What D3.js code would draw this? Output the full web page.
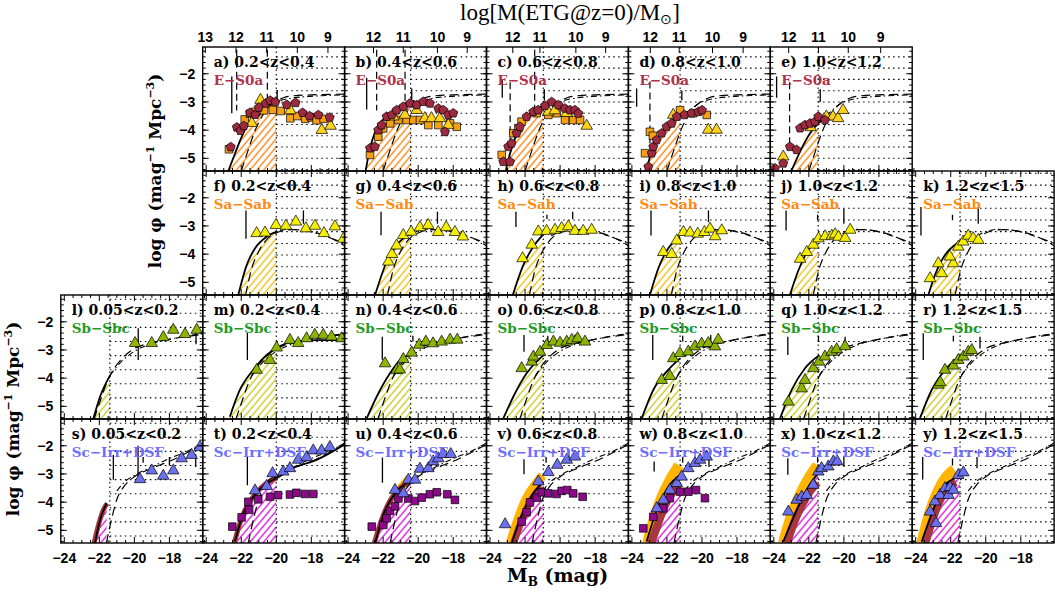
<!DOCTYPE html>
<html>
<head>
<meta charset="utf-8">
<script src="https://cdn.jsdelivr.net/npm/d3@7"></script>
<style>
body { margin: 0; background: #fff; }
svg { display: block; }
</style>
</head>
<body>
<svg id="chart" width="1055" height="592"></svg>
<script>
// values: [M_B (mag), log phi]
var zBins = ["0.05<z<0.2", "0.2<z<0.4", "0.4<z<0.6", "0.6<z<0.8", "0.8<z<1.0", "1.0<z<1.2", "1.2<z<1.5"];
var mLim = [-21.4, -20.0, -20.43, -20.96, -21.25, -21.47, -21.47];
var typeNames = ["E\u2212S0a", "Sa\u2212Sab", "Sb\u2212Sbc", "Sc\u2212Irr+DSF"];
var xTickLabels = [-24, -22, -20, -18];
var yTickLabels = [-2, -3, -4, -5];

// dotted levels right of the completeness limit, per row
var gridRow0 = [-1.4, -1.8, -2.2, -2.6, -3.0, -3.4, -3.8, -4.2, -4.6, -5.0, -5.4];
var gridRow1 = [-1.13, -1.55, -1.96, -2.37, -2.79, -3.2, -3.62, -4.03, -4.45, -4.86, -5.27];
var gridRow2 = [-1.2, -1.7, -2.2, -2.7, -3.2, -3.7, -4.2, -4.7, -5.2];
var gridRow3 = [-1.2, -1.7, -2.2, -2.7, -3.2, -3.7, -4.2, -4.7, -5.2];

// local reference LFs, per row (long dash and dash-dot)
var refDash0 = [[-22.0,-5.45],[-21.6,-4.7],[-21.2,-4.0],[-20.7,-3.4],[-20.2,-3.05],[-19.6,-2.85],[-19.0,-2.78],[-18.0,-2.75],[-16.1,-2.72]];
var refDot0 = [[-21.0,-3.5],[-20.5,-3.2],[-20.0,-3.0],[-19.3,-2.88],[-18.5,-2.82],[-17.5,-2.78],[-16.1,-2.75]];
var refDash1 = [[-21.75,-5.45],[-21.4,-4.5],[-21.0,-3.9],[-20.5,-3.45],[-20.0,-3.25],[-19.5,-3.15],[-19.0,-3.13],[-18.0,-3.2],[-17.0,-3.4],[-16.1,-3.7]];
var refDot1 = [[-20.5,-3.35],[-20.0,-3.2],[-19.3,-3.12],[-18.5,-3.15],[-17.5,-3.3],[-16.8,-3.45],[-16.1,-3.6]];
var refDash2 = [[-22.3,-5.45],[-22.0,-4.9],[-21.6,-4.2],[-21.2,-3.7],[-20.7,-3.3],[-20.0,-2.95],[-19.0,-2.75],[-18.0,-2.62],[-17.0,-2.52],[-16.1,-2.45]];
var refDot2 = [[-21.4,-3.9],[-20.8,-3.45],[-20.0,-3.05],[-19.0,-2.77],[-18.0,-2.62],[-17.0,-2.5],[-16.1,-2.42]];
var refDash3 = [[-21.6,-5.45],[-21.3,-4.6],[-21.0,-3.9],[-20.6,-3.45],[-20.0,-3.1],[-19.0,-2.8],[-18.0,-2.55],[-17.0,-2.25],[-16.1,-1.95]];
var refDot3 = [[-21.0,-3.6],[-20.5,-3.25],[-20.0,-3.05],[-19.0,-2.75],[-18.0,-2.45],[-17.0,-2.2],[-16.1,-1.9]];

// ---- row 1: E-S0a ----
var massA = [[13,-24.05],[12,-22.3],[11,-20.55],[10,-18.8],[9,-17.05]];
var massB = [[12,-22.55],[11,-20.85],[10,-18.9],[9,-17.2]];
var massC = [[12,-22.7],[11,-21.15],[10,-19.1],[9,-17.4]];
var massD = [[12,-22.95],[11,-21.3],[10,-19.4],[9,-17.65]];
var massE = [[12,-23.15],[11,-21.45],[10,-19.75],[9,-17.9]];

var solidA = [[-22.75,-5.47],[-22.35,-4.82],[-21.97,-4.23],[-21.59,-3.76],[-21.02,-3.34],[-20.55,-3.11],[-20.0,-2.99],[-19.8,-2.97]];
var pentA = [[-22.6,-4.6],[-22.25,-3.9],[-22.05,-4.02],[-21.85,-3.85],[-21.5,-3.38],[-21.2,-3.45],[-21.0,-3.2],[-20.6,-3.05],[-20.35,-2.95],[-20.05,-3.0],[-19.4,-3.1],[-18.9,-3.03],[-18.5,-3.38],[-18.1,-3.5],[-17.6,-3.46],[-16.95,-3.55]];
var sqA = [[-22.7,-4.68],[-21.8,-3.62],[-21.5,-3.42],[-21.2,-3.35],[-20.7,-3.3],[-20.2,-3.28],[-19.75,-3.32],[-19.2,-3.58],[-18.8,-3.5],[-18.35,-3.6],[-18.0,-3.55],[-17.7,-3.65],[-17.3,-3.6]];
var triA = [[-21.4,-3.75],[-20.9,-2.93],[-19.2,-3.3],[-17.4,-4.0],[-16.9,-3.85]];
var markA = [[-22.54,-2.1,-3.4],[-19.95,-2.58,-2.93]];
var vdashA = [[-22.26,-1.15,-3.3],[-20.51,-1.15,-3.3]];

var solidB = [[-23.0,-5.45],[-22.85,-4.94],[-22.37,-3.93],[-21.8,-3.52],[-21.23,-3.23],[-20.45,-2.99],[-20.2,-2.96]];
var pentB = [[-22.75,-4.64],[-22.47,-4.59],[-22.28,-4.0],[-22.09,-3.82],[-21.8,-3.52],[-21.51,-3.46],[-21.23,-3.29],[-20.85,-3.17],[-20.47,-3.05],[-20.08,-3.11],[-19.71,-2.99],[-19.33,-3.05],[-18.85,-3.23],[-18.57,-3.29],[-18.28,-3.46],[-18.0,-3.4],[-18.47,-4.06]];
var sqB = [[-22.75,-4.88],[-22.28,-4.23],[-22.0,-3.94],[-21.6,-3.76],[-21.13,-3.64],[-20.66,-3.64],[-20.28,-3.64],[-19.9,-3.64],[-19.42,-3.82],[-18.85,-3.82],[-18.18,-3.76],[-17.8,-3.88]];
var triB = [[-21.42,-3.52],[-20.76,-3.46],[-20.09,-3.29],[-19.62,-3.58],[-19.24,-3.58],[-18.76,-3.58],[-18.28,-3.82]];
var markB = [[-22.94,-2.14,-3.27],[-20.37,-2.52,-2.93]];
var vdashB = [[-22.37,-1.15,-3.3],[-20.75,-1.15,-3.3]];

var solidC = [[-23.1,-5.45],[-22.96,-5.06],[-22.67,-4.47],[-22.29,-3.88],[-21.72,-3.42],[-20.96,-3.13],[-20.6,-3.05]];
var pentC = [[-23.24,-5.12],[-22.86,-5.12],[-22.96,-4.59],[-22.77,-4.47],[-22.48,-4.11],[-22.29,-3.88],[-21.91,-3.52],[-21.53,-3.35],[-21.25,-3.29],[-20.86,-3.13],[-20.48,-3.0],[-20.1,-3.11],[-19.72,-3.23],[-19.43,-3.29],[-19.15,-3.29],[-18.96,-3.41]];
var sqC = [[-23.33,-4.88],[-22.67,-4.11],[-22.38,-3.93],[-22.2,-3.7],[-21.34,-3.4],[-20.67,-3.46],[-20.2,-3.4],[-19.72,-3.64],[-19.25,-3.64],[-18.86,-3.64]];
var triC = [[-20.67,-3.35],[-20.3,-3.3],[-19.62,-3.4],[-18.48,-3.85]];
var markC = [[-23.3,-2.2,-2.85],[-20.9,-2.55,-2.95]];
var vdashC = [[-22.85,-2.3,-4.6],[-21.45,-1.15,-3.4]];

var solidD = [[-23.2,-5.45],[-22.78,-4.59],[-22.21,-4.0],[-21.64,-3.64],[-21.07,-3.4],[-20.5,-3.33]];
var pentD = [[-23.06,-5.3],[-22.87,-4.82],[-22.78,-4.59],[-22.59,-4.35],[-22.3,-4.11],[-22.02,-3.88],[-21.73,-3.76],[-21.44,-3.52],[-21.0,-3.46],[-20.6,-3.4],[-20.2,-3.35],[-20.0,-3.29]];
var sqD = [[-23.25,-4.82],[-22.97,-4.06],[-22.8,-4.2],[-21.25,-3.29],[-20.5,-3.4],[-19.73,-3.46]];
var triD = [[-21.64,-3.46],[-19.64,-3.99],[-19.17,-3.99]];
var markD = [[-23.73,-2.52,-3.17],[-21.15,-2.6,-2.95]];
var vdashD = [[-22.97,-2.27,-4.65]];

var solidE = [[-23.0,-5.45],[-22.5,-4.76],[-21.93,-4.11],[-21.46,-3.76],[-21.0,-3.55],[-20.5,-3.4]];
var pentE = [[-23.93,-5.35],[-23.46,-5.18],[-23.08,-4.59],[-22.7,-4.7],[-22.5,-3.93],[-22.22,-3.82],[-21.93,-3.76],[-21.65,-3.7],[-21.46,-3.52],[-21.08,-3.64]];
var sqE = [];
var triE = [[-23.46,-4.94],[-21.9,-3.9],[-21.0,-3.52],[-20.62,-3.52],[-20.33,-3.58],[-20.05,-3.29]];
var markE = [[-23.84,-2.1,-2.85],[-21.35,-2.55,-3.0]];
var vdashE = [[-23.1,-2.3,-4.5]];

// ---- row 2: Sa-Sab ----
var solidF = [[-22.17,-5.45],[-21.69,-4.39],[-21.21,-3.79],[-20.55,-3.38],[-19.98,-3.2]];
var triF = [[-21.12,-3.26],[-20.64,-3.24],[-20.02,-2.97],[-19.45,-3.0],[-18.88,-2.85],[-18.31,-3.09],[-17.79,-3.0],[-17.28,-3.26],[-16.65,-3.02],[-16.17,-3.46]];
var markF = [[-21.73,-2.45,-3.45],[-18.45,-2.45,-2.92]];
var solidG = [[-22.46,-5.45],[-21.8,-4.27],[-21.23,-3.68],[-20.43,-3.26]];
var triG = [[-21.7,-4.27],[-21.5,-4.0],[-21.23,-3.7],[-20.85,-3.33],[-20.4,-3.21],[-19.9,-3.05],[-19.43,-2.97],[-18.86,-3.22],[-18.4,-3.05],[-17.9,-3.22],[-17.45,-3.38]];
var markG = [[-22.12,-2.5,-3.33],[-18.9,-2.5,-2.92]];
var solidH = [[-22.7,-5.45],[-22.1,-4.39],[-21.53,-3.74],[-20.96,-3.3]];
var triH = [[-22.14,-4.15],[-21.62,-3.67],[-21.24,-3.2],[-20.77,-3.18],[-20.29,-3.14],[-19.91,-3.08],[-19.53,-3.02],[-19.15,-3.18],[-18.68,-3.18],[-18.2,-3.14]];
var markH = [[-22.52,-2.5,-3.04],[-19.28,-2.5,-2.75],[-20.75,-2.6,-2.75]];
var solidI = [[-22.97,-5.45],[-22.49,-4.5],[-21.92,-3.79],[-21.25,-3.38]];
var triI = [[-22.21,-3.93],[-21.73,-4.0],[-21.44,-3.52],[-21.06,-3.22],[-20.68,-3.24],[-20.24,-3.28],[-19.86,-3.22],[-19.54,-3.1],[-19.25,-3.37],[-18.87,-3.16]];
var markI = [[-22.91,-2.45,-3.34],[-19.63,-2.45,-2.86]];
var solidJ = [[-23.08,-5.45],[-22.61,-4.6],[-22.03,-3.85],[-21.49,-3.5]];
var triJ = [[-22.5,-4.17],[-22.12,-3.93],[-21.74,-3.67],[-21.45,-3.45],[-21.07,-3.37],[-20.69,-3.35],[-20.5,-3.3],[-20.31,-3.39],[-19.93,-3.43],[-19.64,-3.14]];
var markJ = [[-23.3,-2.45,-3.16],[-20.0,-2.39,-2.92],[-21.5,-2.6,-2.8]];
var solidK = [[-23.28,-5.45],[-22.9,-4.74],[-22.33,-4.03],[-21.76,-3.67],[-21.38,-3.5]];
var triK = [[-23.18,-4.86],[-22.52,-4.68],[-22.71,-4.33],[-21.86,-4.33],[-22.05,-4.09],[-21.57,-3.74],[-21.29,-3.56],[-21.0,-3.35],[-20.72,-3.44],[-20.43,-3.5]];
var markK = [[-23.7,-2.33,-3.34],[-20.43,-2.33,-2.92],[-21.9,-2.6,-2.8]];

// ---- row 3: Sb-Sbc ----
var solidL = [[-22.35,-5.45],[-21.96,-4.66],[-21.39,-3.9]];
var triL = [[-19.96,-2.76],[-19.01,-2.76],[-18.35,-2.55],[-17.78,-2.29],[-17.11,-2.44],[-16.44,-2.29]];
var markL = [[-19.78,-2.23,-3.36],[-16.48,-2.28,-2.8]];
var solidM = [[-22.65,-5.37],[-22.08,-4.42],[-21.32,-3.71],[-20.55,-3.18],[-19.98,-2.92],[-19.03,-2.71],[-17.7,-2.65],[-16.1,-2.65]];
var triM = [[-21.12,-3.71],[-20.36,-3.36],[-19.98,-2.92],[-19.22,-2.65],[-18.75,-2.76],[-18.27,-2.59],[-17.8,-2.47],[-17.32,-2.47],[-16.84,-2.53],[-16.27,-2.59]];
var markM = [[-21.65,-2.4,-3.36]];
var solidN = [[-22.94,-5.43],[-22.37,-4.66],[-21.61,-3.83],[-20.94,-3.3],[-20.43,-3.18]];
var triN = [[-21.89,-3.48],[-21.23,-3.72],[-21.05,-3.7],[-20.85,-3.33],[-20.37,-3.1],[-19.94,-2.82],[-19.56,-2.71],[-19.15,-2.77],[-18.66,-2.71],[-18.18,-2.64],[-17.77,-2.64]];
var markN = [[-22.05,-2.53,-3.35],[-20.3,-2.5,-2.7],[-18.2,-2.5,-2.8]];
var solidO = [[-23.24,-5.43],[-22.67,-4.66],[-21.91,-3.83],[-21.15,-3.3],[-20.96,-3.2]];
var triO = [[-22.19,-3.65],[-21.62,-3.42],[-21.52,-3.24],[-21.14,-3.07],[-20.76,-2.83],[-20.38,-2.71],[-20.0,-2.75],[-19.62,-2.71],[-19.33,-2.65],[-19.0,-2.59],[-18.58,-2.71]];
var markO = [[-22.06,-2.47,-3.06],[-20.7,-2.5,-2.7],[-19.15,-2.45,-2.8]];
var solidP = [[-23.44,-5.43],[-22.78,-4.42],[-22.02,-3.77],[-21.25,-3.3]];
var triP = [[-22.3,-4.07],[-21.83,-3.93],[-21.64,-3.3],[-21.26,-3.12],[-20.78,-3.06],[-20.4,-2.88],[-20.02,-2.78],[-19.64,-2.76],[-19.26,-2.88],[-19.07,-2.64]];
var markP = [[-22.81,-2.47,-3.36],[-21.1,-2.5,-2.7],[-19.5,-2.47,-2.9]];
var solidQ = [[-23.64,-5.43],[-22.98,-4.42],[-22.22,-3.65],[-21.42,-3.2]];
var triQ = [[-23.17,-4.84],[-22.41,-4.37],[-22.22,-4.07],[-21.74,-3.65],[-21.42,-3.42],[-21.08,-3.24],[-20.7,-3.07],[-20.41,-2.98],[-19.93,-2.87]];
var markQ = [[-23.2,-2.53,-3.18],[-21.45,-2.5,-2.7],[-19.93,-2.53,-2.95]];
var solidR = [[-23.76,-5.43],[-23.09,-4.42],[-22.33,-3.71],[-21.47,-3.2]];
var triR = [[-22.71,-4.24],[-22.6,-4.15],[-22.33,-3.71],[-21.85,-3.56],[-21.57,-3.36],[-21.28,-3.24],[-21.0,-3.07],[-20.8,-3.01]];
var markR = [[-23.57,-2.41,-3.36],[-21.85,-2.5,-2.7],[-20.33,-2.53,-2.95]];

// ---- row 4: Sc-Irr+DSF ----
var solidS = [[-22.25,-5.45],[-21.96,-4.63],[-21.58,-4.04]];
var triS = [[-19.68,-3.19],[-19.01,-2.88],[-18.35,-3.07],[-17.78,-2.88],[-17.3,-2.45],[-16.73,-2.33],[-16.26,-2.05]];
var markS = [[-21.2,-2.33,-3.21],[-19.79,-2.0,-3.1],[-19.5,-2.4,-2.6],[-18.0,-2.4,-2.7],[-16.5,-2.3,-2.75]];
var maroonS = [[-22.3,-5.45],[-22.0,-4.7],[-21.75,-4.25],[-21.55,-4.05]];

var solidT = [[-22.36,-5.4],[-21.88,-4.4],[-21.31,-3.81],[-20.55,-3.33],[-19.98,-3.15],[-19.03,-2.79],[-17.7,-2.5],[-16.1,-1.95]];
var triT = [[-21.21,-3.59],[-20.55,-3.43],[-20.21,-2.98],[-19.6,-2.92],[-19.22,-2.8],[-18.75,-2.5],[-18.27,-2.41],[-17.89,-2.17],[-17.41,-2.17],[-16.94,-2.05]];
var sqT = [[-22.51,-4.87],[-21.98,-4.54],[-21.6,-3.99],[-21.55,-4.27],[-21.03,-3.9],[-20.36,-3.81],[-19.9,-3.75],[-19.22,-3.73],[-18.85,-3.67],[-18.37,-3.71],[-17.89,-3.71]];
var markT = [[-21.65,-2.4,-3.4]];
var maroonT = [[-22.4,-5.45],[-22.1,-4.8],[-21.8,-4.3],[-21.3,-3.8],[-20.6,-3.35],[-20.0,-3.15]];

var solidU = [[-22.46,-5.46],[-21.99,-4.45],[-21.32,-3.68],[-20.43,-3.26]];
var triU = [[-21.32,-3.57],[-20.85,-3.69],[-20.56,-3.21],[-20.18,-3.21],[-19.9,-2.82],[-19.42,-2.8],[-19.14,-2.56],[-18.85,-2.45],[-18.57,-2.3],[-18.14,-2.3]];
var sqU = [[-22.65,-4.87],[-21.99,-4.81],[-21.8,-4.57],[-21.61,-4.31],[-21.32,-4.15],[-21.13,-3.87],[-20.56,-3.87],[-20.18,-3.96],[-19.8,-3.84],[-19.33,-3.72],[-18.94,-3.65],[-18.34,-3.72],[-17.9,-3.92]];
var markU = [[-22.04,-2.42,-3.31],[-20.4,-2.2,-2.45]];
var maroonU = [[-22.5,-5.45],[-22.1,-4.65],[-21.7,-4.05],[-21.2,-3.6],[-20.8,-3.4],[-20.45,-3.3]];
var orangeU = [[-21.1,-3.45],[-20.8,-3.25],[-20.6,-3.1]];

var solidV = [[-22.76,-5.46],[-22.19,-4.46],[-21.53,-3.69],[-20.96,-3.27]];
var triV = [[-23.14,-4.79],[-21.24,-3.27],[-20.67,-2.94],[-20.16,-2.68],[-19.62,-2.5],[-19.15,-2.39]];
var sqV = [[-22.19,-4.69],[-21.91,-4.36],[-21.72,-4.01],[-21.33,-3.84],[-21.05,-3.65],[-20.67,-3.69],[-20.2,-3.71],[-19.91,-3.6],[-19.59,-3.57],[-19.25,-3.69],[-18.71,-3.81]];
var markV = [[-22.06,-2.48,-3.01],[-20.8,-2.4,-2.6],[-19.5,-2.3,-2.6]];
var orangeV = [[-22.85,-5.45],[-22.4,-4.6],[-21.95,-3.9],[-21.45,-3.4],[-21.0,-3.05]];
var maroonV = [[-22.65,-5.45],[-22.25,-4.75],[-21.8,-4.1],[-21.4,-3.7],[-21.05,-3.45]];

var solidW = [[-23.16,-5.4],[-22.58,-4.28],[-21.92,-3.45],[-21.25,-3.04]];
var triW = [[-22.58,-4.22],[-22.21,-3.92],[-21.83,-3.57],[-21.44,-3.33],[-21.16,-3.1],[-20.78,-2.8],[-20.4,-2.62],[-20.11,-2.5],[-19.73,-2.39]];
var sqW = [[-23.35,-4.93],[-22.78,-4.52],[-22.21,-4.22],[-21.83,-3.86],[-21.25,-3.63],[-20.78,-3.63],[-20.34,-3.57],[-19.83,-3.86]];
var markW = [[-22.73,-2.56,-2.91],[-21.1,-2.4,-2.6],[-19.6,-2.3,-2.75]];
var orangeW = [[-23.1,-5.45],[-22.7,-4.55],[-22.3,-3.85],[-21.8,-3.2],[-21.3,-2.7]];
var maroonW = [[-22.9,-5.45],[-22.5,-4.75],[-22.1,-4.1],[-21.7,-3.65],[-21.3,-3.3]];

var solidX = [[-23.46,-5.4],[-22.69,-4.28],[-22.03,-3.45],[-21.46,-2.98]];
var triX = [[-23.17,-4.34],[-22.69,-3.92],[-22.41,-3.81],[-22.12,-3.75],[-21.75,-3.39],[-21.46,-2.92],[-21.27,-2.8],[-20.89,-2.74],[-20.6,-2.56],[-20.38,-2.56]];
var markX = [[-23.2,-2.44,-3.03],[-21.5,-2.4,-2.6],[-20.0,-2.35,-2.75]];
var orangeX = [[-23.45,-5.45],[-23.0,-4.5],[-22.5,-3.75],[-22.0,-3.15],[-21.5,-2.7]];
var maroonX = [[-23.25,-5.45],[-22.8,-4.65],[-22.3,-4.0],[-21.85,-3.55],[-21.5,-3.3]];

var solidY = [[-23.66,-5.4],[-23.0,-4.28],[-22.42,-3.45],[-21.95,-3.21],[-21.47,-3.05]];
var triY = [[-23.18,-4.34],[-22.84,-4.75],[-22.9,-3.98],[-22.61,-3.75],[-22.33,-3.51],[-22.13,-3.75],[-22.04,-3.47],[-21.85,-3.57],[-21.57,-3.04],[-21.28,-2.95]];
var markY = [[-23.6,-2.4,-3.2],[-21.9,-2.45,-2.7],[-20.5,-2.4,-2.8]];
var orangeY = [[-23.65,-5.45],[-23.2,-4.4],[-22.75,-3.65],[-22.3,-3.15],[-21.8,-2.85]];
var maroonY = [[-23.45,-5.45],[-23.0,-4.55],[-22.55,-3.85],[-22.1,-3.45],[-21.7,-3.3]];

// ---- layout ----
var left0 = 60.8, top0 = 47, W = 141.9, H = 124;
var rowColors = {
  label: ["#b0324a", "#ff8a12", "#1f9a1f", "#6e6eff"],
  hatch: ["#ff8a1a", "#f2c21a", "#cccc2a", "#e01ee0"],
  tri: ["#ffd21a", "#f6ee00", "#8cb400", "#6b70ee"],
  sq: ["#f5a014", null, null, "#8a0a8a"]
};
var grids = [gridRow0, gridRow1, gridRow2, gridRow3];
var refDash = [refDash0, refDash1, refDash2, refDash3];
var refDot = [refDot0, refDot1, refDot2, refDot3];

var panels = [
  {id: "a", row: 0, col: 1, solid: solidA, pent: pentA, sq: sqA, tri: triA, marks: markA, vdash: vdashA, mass: massA},
  {id: "b", row: 0, col: 2, solid: solidB, pent: pentB, sq: sqB, tri: triB, marks: markB, vdash: vdashB, mass: massB},
  {id: "c", row: 0, col: 3, solid: solidC, pent: pentC, sq: sqC, tri: triC, marks: markC, vdash: vdashC, mass: massC},
  {id: "d", row: 0, col: 4, solid: solidD, pent: pentD, sq: sqD, tri: triD, marks: markD, vdash: vdashD, mass: massD},
  {id: "e", row: 0, col: 5, solid: solidE, pent: pentE, sq: sqE, tri: triE, marks: markE, vdash: vdashE, mass: massE},
  {id: "f", row: 1, col: 1, solid: solidF, tri: triF, marks: markF},
  {id: "g", row: 1, col: 2, solid: solidG, tri: triG, marks: markG},
  {id: "h", row: 1, col: 3, solid: solidH, tri: triH, marks: markH},
  {id: "i", row: 1, col: 4, solid: solidI, tri: triI, marks: markI},
  {id: "j", row: 1, col: 5, solid: solidJ, tri: triJ, marks: markJ},
  {id: "k", row: 1, col: 6, solid: solidK, tri: triK, marks: markK},
  {id: "l", row: 2, col: 0, solid: solidL, tri: triL, marks: markL},
  {id: "m", row: 2, col: 1, solid: solidM, tri: triM, marks: markM},
  {id: "n", row: 2, col: 2, solid: solidN, tri: triN, marks: markN},
  {id: "o", row: 2, col: 3, solid: solidO, tri: triO, marks: markO},
  {id: "p", row: 2, col: 4, solid: solidP, tri: triP, marks: markP},
  {id: "q", row: 2, col: 5, solid: solidQ, tri: triQ, marks: markQ},
  {id: "r", row: 2, col: 6, solid: solidR, tri: triR, marks: markR},
  {id: "s", row: 3, col: 0, solid: solidS, tri: triS, marks: markS, maroon: maroonS, maroonW: 5},
  {id: "t", row: 3, col: 1, solid: solidT, tri: triT, sq: sqT, marks: markT, maroon: maroonT, maroonW: 5},
  {id: "u", row: 3, col: 2, solid: solidU, tri: triU, sq: sqU, marks: markU, maroon: maroonU, maroonW: 5, orange: orangeU, orangeW: 4},
  {id: "v", row: 3, col: 3, solid: solidV, tri: triV, sq: sqV, marks: markV, orange: orangeV, orangeW: 9, maroon: maroonV, maroonW: 7},
  {id: "w", row: 3, col: 4, solid: solidW, tri: triW, sq: sqW, marks: markW, orange: orangeW, orangeW: 11, maroon: maroonW, maroonW: 8},
  {id: "x", row: 3, col: 5, solid: solidX, tri: triX, marks: markX, orange: orangeX, orangeW: 11, maroon: maroonX, maroonW: 8},
  {id: "y", row: 3, col: 6, solid: solidY, tri: triY, marks: markY, orange: orangeY, orangeW: 11, maroon: maroonY, maroonW: 8}
];

var x = d3.scaleLinear().domain([-24.2, -16.1]).range([0, W]);
var y = d3.scaleLinear().domain([-5.45, -1.05]).range([H, 0]);

var svg = d3.select("#chart");
var defs = svg.append("defs");

defs.append("clipPath").attr("id", "panelClip")
  .append("rect").attr("width", W).attr("height", H);
mLim.forEach(function (m, c) {
  defs.append("clipPath").attr("id", "limClip" + c)
    .append("rect").attr("width", x(m)).attr("height", H);
});
rowColors.hatch.forEach(function (col, r) {
  var p = defs.append("pattern").attr("id", "hatch" + r)
    .attr("patternUnits", "userSpaceOnUse")
    .attr("width", 5.2).attr("height", 5.2)
    .attr("patternTransform", "rotate(40)");
  p.append("line").attr("x1", 1).attr("y1", 0).attr("x2", 1).attr("y2", 5.2)
    .attr("stroke", col).attr("stroke-width", 1.4);
});

// pentagon marker for the E-S0a sample
var symPent = {
  draw: function (ctx, size) {
    var r = Math.sqrt(size / 2.378);
    for (var i = 0; i < 5; i++) {
      var a = -Math.PI / 2 + i * 2 * Math.PI / 5;
      if (i === 0) ctx.moveTo(r * Math.cos(a), r * Math.sin(a));
      else ctx.lineTo(r * Math.cos(a), r * Math.sin(a));
    }
    ctx.closePath();
  }
};

var line = d3.line().x(function (d) { return x(d[0]); }).y(function (d) { return y(d[1]); }).curve(d3.curveMonotoneX);
var area = d3.area().x(function (d) { return x(d[0]); }).y0(H).y1(function (d) { return y(d[1]); }).curve(d3.curveMonotoneX);
var minus = function (v) { return String(v).replace("-", "\u2212"); };

function drawPts(g, data, type, size, fill) {
  if (!data) return;
  g.selectAll(null).data(data).enter().append("path")
    .attr("d", d3.symbol().type(type).size(size))
    .attr("transform", function (d) { return "translate(" + x(d[0]) + "," + y(d[1]) + ")"; })
    .attr("fill", fill).attr("stroke", "#000").attr("stroke-width", 0.7);
}

panels.forEach(function (p) {
  var g = svg.append("g")
    .attr("transform", "translate(" + (left0 + p.col * W) + "," + (top0 + p.row * H) + ")");
  var inner = g.append("g").attr("clip-path", "url(#panelClip)");
  var xl = x(mLim[p.col]);

  // hatched region under the fit, left of the limit
  inner.append("g").attr("clip-path", "url(#limClip" + p.col + ")")
    .append("path").attr("d", area(p.solid)).attr("fill", "url(#hatch" + p.row + ")");

  // dotted completeness limit and levels
  inner.append("line").attr("x1", xl).attr("x2", xl).attr("y1", 0).attr("y2", H)
    .attr("stroke", "#000").attr("stroke-width", 1.1).attr("stroke-dasharray", "1.5,3");
  inner.selectAll(null).data(grids[p.row]).enter().append("line")
    .attr("x1", xl).attr("x2", W).attr("y1", function (d) { return y(d); }).attr("y2", function (d) { return y(d); })
    .attr("stroke", "#000").attr("stroke-width", 1.1).attr("stroke-dasharray", "1.5,3.5");

  // uncertainty bands
  if (p.orange) inner.append("path").attr("d", line(p.orange)).attr("fill", "none")
    .attr("stroke", "#ffb400").attr("stroke-width", p.orangeW);
  if (p.maroon) inner.append("path").attr("d", line(p.maroon)).attr("fill", "none")
    .attr("stroke", "#a8363e").attr("stroke-width", p.maroonW);

  // reference curves and fit
  inner.append("path").attr("d", line(refDash[p.row])).attr("fill", "none")
    .attr("stroke", "#000").attr("stroke-width", 1.2).attr("stroke-dasharray", "9,5");
  inner.append("path").attr("d", line(refDot[p.row])).attr("fill", "none")
    .attr("stroke", "#000").attr("stroke-width", 1.1).attr("stroke-dasharray", "6,3,1.5,3");
  inner.append("path").attr("d", line(p.solid)).attr("fill", "none")
    .attr("stroke", "#000").attr("stroke-width", 1.8);

  // vertical markers
  inner.selectAll(null).data(p.marks).enter().append("line")
    .attr("x1", function (d) { return x(d[0]); }).attr("x2", function (d) { return x(d[0]); })
    .attr("y1", function (d) { return y(d[1]); }).attr("y2", function (d) { return y(d[2]); })
    .attr("stroke", "#000").attr("stroke-width", 1.3);
  if (p.vdash) inner.selectAll(null).data(p.vdash).enter().append("line")
    .attr("x1", function (d) { return x(d[0]); }).attr("x2", function (d) { return x(d[0]); })
    .attr("y1", function (d) { return y(d[1]); }).attr("y2", function (d) { return y(d[2]); })
    .attr("stroke", "#000").attr("stroke-width", 1.2).attr("stroke-dasharray", "7,4");

  // data points
  drawPts(inner, p.sq, d3.symbolSquare, 58, rowColors.sq[p.row]);
  drawPts(inner, p.tri, d3.symbolTriangle, 58, rowColors.tri[p.row]);
  drawPts(inner, p.pent, symPent, 54, "#9e2a40");

  // labels
  g.append("text").attr("x", 11).attr("y", 20)
    .style("font", "bold 14px 'DejaVu Serif'").attr("fill", "#000")
    .text(p.id + ") " + zBins[p.col]);
  g.append("text").attr("x", 11).attr("y", 38)
    .style("font", "bold 13.5px 'DejaVu Serif'").attr("fill", rowColors.label[p.row])
    .text(typeNames[p.row]);

  // frame and ticks
  g.append("rect").attr("width", W).attr("height", H)
    .attr("fill", "none").attr("stroke", "#000").attr("stroke-width", 1.4);
  var tk = g.append("g").attr("stroke", "#000").attr("stroke-width", 1);
  var xMaj = d3.range(-24, -16.05, 2), xMin = d3.range(-24, -15.95, 0.5);
  var yMaj = d3.range(-5, -1.5, 1), yMin = d3.range(-5.4, -1.05, 0.2);
  xMin.forEach(function (v) {
    var len = xMaj.indexOf(v) >= 0 ? 6 : 3;
    tk.append("line").attr("x1", x(v)).attr("x2", x(v)).attr("y1", H).attr("y2", H - len);
    if (p.row > 0) tk.append("line").attr("x1", x(v)).attr("x2", x(v)).attr("y1", 0).attr("y2", len);
  });
  yMin.forEach(function (v) {
    tk.append("line").attr("x1", 0).attr("x2", 3).attr("y1", y(v)).attr("y2", y(v));
    tk.append("line").attr("x1", W).attr("x2", W - 3).attr("y1", y(v)).attr("y2", y(v));
  });
  yMaj.forEach(function (v) {
    tk.append("line").attr("x1", 0).attr("x2", 6).attr("y1", y(v)).attr("y2", y(v));
    tk.append("line").attr("x1", W).attr("x2", W - 6).attr("y1", y(v)).attr("y2", y(v));
  });

  // stellar-mass axis on top row
  if (p.mass) {
    p.mass.forEach(function (d) {
      tk.append("line").attr("x1", x(d[1])).attr("x2", x(d[1])).attr("y1", 0).attr("y2", 6);
      g.append("text").attr("x", x(d[1])).attr("y", -5.3).attr("text-anchor", "middle")
        .style("font", "bold 14px 'Liberation Sans'").text(d[0]);
    });
  }
  // bottom tick labels
  if (p.row === 3) {
    xTickLabels.forEach(function (v) {
      g.append("text").attr("x", x(v)).attr("y", H + 20).attr("text-anchor", "middle")
        .style("font", "bold 14px 'Liberation Sans'").text(minus(v));
    });
  }
  // left tick labels
  if ((p.row < 2 && p.col === 1) || (p.row >= 2 && p.col === 0)) {
    yTickLabels.forEach(function (v) {
      g.append("text").attr("x", -7.5).attr("y", y(v) + 5).attr("text-anchor", "end")
        .style("font", "bold 14px 'Liberation Sans'").text(minus(v));
    });
  }
});

// axis titles
function yTitle(cx, cy) {
  var t = svg.append("text").attr("transform", "translate(" + cx + "," + cy + ") rotate(-90)")
    .attr("text-anchor", "middle").style("font", "bold 17px 'DejaVu Serif'");
  t.append("tspan").text("log \u03c6 (mag");
  t.append("tspan").attr("dy", -7).style("font-size", "11px").text("\u22121");
  t.append("tspan").attr("dy", 7).text(" Mpc");
  t.append("tspan").attr("dy", -7).style("font-size", "11px").text("\u22123");
  t.append("tspan").attr("dy", 7).text(")");
}
yTitle(left0 + W - 42, top0 + H);
yTitle(left0 - 42, top0 + 3 * H);

var tt = svg.append("text").attr("x", 570).attr("y", 20).attr("text-anchor", "middle")
  .style("font", "23px 'Liberation Serif'");
tt.append("tspan").text("log[M(ETG@z=0)/M");
tt.append("tspan").attr("dy", 4).style("font-size", "14px").text("\u2299");
tt.append("tspan").attr("dy", -4).text("]");

var xt = svg.append("text").attr("x", left0 + 3.5 * W).attr("y", 582).attr("text-anchor", "middle")
  .style("font", "bold 19px 'DejaVu Serif'");
xt.append("tspan").text("M");
xt.append("tspan").attr("dy", 4).style("font-size", "12px").text("B");
xt.append("tspan").attr("dy", -4).text(" (mag)");
</script>
</body>
</html>
